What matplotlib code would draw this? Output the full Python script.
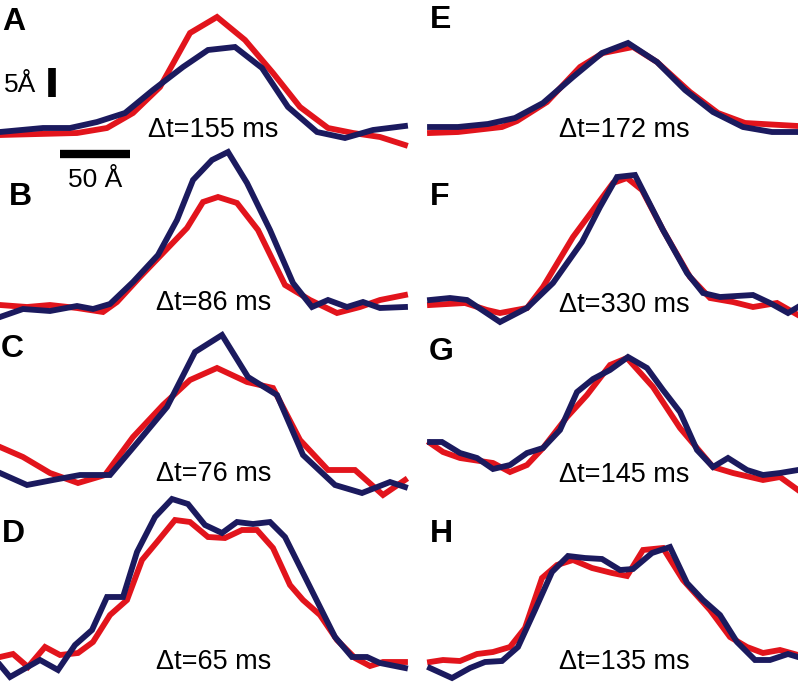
import matplotlib
matplotlib.use('Agg')
import matplotlib.pyplot as plt

# colours of the two traces
RED = '#e2141c'
NAVY = '#1b1a5e'

# panel A
A_red_x = [0, 77, 107, 133, 160, 190, 217, 245, 273, 300, 328, 353, 380, 405]
A_red_y = [135, 133, 128, 113, 87, 33, 17, 40, 73, 107, 128, 133, 137, 145]
A_navy_x = [0, 43, 70, 97, 125, 153, 183, 208, 235, 262, 288, 317, 345, 373, 405]
A_navy_y = [132, 128, 128, 122, 113, 90, 67, 50, 47, 68, 107, 132, 138, 130, 126]

# panel B
B_red_x = [0, 27, 50, 77, 103, 117, 140, 163, 187, 203, 218, 237, 258, 285, 310, 337, 360, 380, 405]
B_red_y = [305, 307, 305, 308, 312, 302, 277, 253, 228, 202, 197, 203, 230, 285, 300, 313, 307, 300, 295]
B_navy_x = [0, 23, 50, 77, 93, 110, 133, 158, 177, 193, 212, 228, 247, 270, 293, 312, 328, 347, 363, 380, 405]
B_navy_y = [317, 309, 311, 306, 309, 304, 282, 255, 220, 180, 160, 152, 183, 230, 283, 307, 300, 307, 302, 308, 307]

# panel C
C_red_x = [0, 23, 50, 78, 105, 133, 163, 190, 217, 247, 273, 300, 328, 355, 383, 405]
C_red_y = [447, 457, 473, 483, 475, 437, 405, 380, 368, 382, 388, 440, 470, 470, 495, 480]
C_navy_x = [0, 27, 53, 80, 110, 137, 167, 195, 222, 248, 277, 303, 335, 362, 390, 405]
C_navy_y = [473, 485, 480, 475, 475, 443, 407, 352, 335, 377, 395, 455, 485, 493, 482, 487]

# panel D
D_red_x = [0, 13, 28, 45, 60, 78, 93, 110, 127, 142, 157, 175, 190, 208, 225, 242, 257, 273, 290, 303, 320, 337, 355, 370, 383, 405]
D_red_y = [657, 654, 667, 647, 655, 653, 642, 615, 600, 560, 542, 520, 522, 537, 538, 530, 530, 548, 585, 600, 615, 640, 658, 666, 662, 662]
D_navy_x = [0, 10, 40, 58, 75, 92, 107, 123, 137, 155, 172, 188, 205, 222, 237, 253, 270, 285, 310, 335, 352, 367, 380, 405]
D_navy_y = [665, 677, 660, 670, 645, 630, 597, 597, 552, 517, 499, 504, 525, 533, 522, 524, 522, 537, 587, 637, 657, 657, 663, 668]

# panel E
E_red_x = [430, 458, 502, 517, 547, 580, 603, 633, 657, 690, 718, 745, 798]
E_red_y = [133, 132, 127, 121, 102, 67, 53, 47, 62, 92, 113, 123, 126]
E_navy_x = [430, 458, 488, 515, 543, 573, 602, 628, 657, 685, 713, 743, 772, 798]
E_navy_y = [127, 127, 124, 118, 103, 77, 53, 43, 62, 90, 112, 127, 132, 132]

# panel F
F_red_x = [430, 465, 487, 500, 527, 543, 573, 593, 613, 627, 642, 663, 690, 710, 733, 753, 777, 798]
F_red_y = [305, 303, 310, 313, 308, 287, 237, 210, 183, 178, 190, 230, 277, 298, 302, 307, 303, 315]
F_navy_x = [430, 450, 467, 482, 500, 527, 553, 582, 600, 617, 635, 663, 687, 703, 720, 753, 770, 788, 798]
F_navy_y = [300, 298, 300, 310, 322, 308, 283, 242, 207, 177, 175, 230, 273, 293, 297, 295, 303, 313, 307]

# panel G
G_red_x = [430, 443, 460, 493, 510, 527, 543, 567, 587, 610, 627, 653, 680, 713, 733, 763, 780, 798]
G_red_y = [443, 452, 458, 463, 472, 465, 448, 417, 395, 365, 358, 387, 428, 467, 473, 480, 477, 490]
G_navy_x = [430, 442, 460, 477, 493, 510, 527, 543, 560, 577, 593, 610, 628, 647, 663, 680, 697, 713, 728, 747, 763, 780, 798]
G_navy_y = [442, 442, 453, 458, 469, 465, 453, 448, 430, 392, 379, 370, 357, 368, 390, 412, 450, 467, 458, 470, 475, 473, 470]

# panel H
H_red_x = [430, 443, 460, 477, 493, 510, 525, 542, 557, 573, 592, 612, 627, 643, 663, 683, 710, 730, 747, 763, 780, 798]
H_red_y = [662, 660, 661, 654, 652, 647, 628, 578, 565, 560, 568, 573, 576, 550, 548, 580, 610, 637, 647, 653, 650, 655]
H_navy_x = [430, 452, 470, 485, 502, 518, 535, 552, 568, 585, 602, 620, 633, 652, 670, 687, 703, 720, 737, 755, 770, 788, 798]
H_navy_y = [668, 678, 668, 662, 661, 647, 610, 572, 556, 558, 559, 570, 569, 553, 547, 583, 600, 615, 642, 660, 660, 654, 657]

panels = ['A', 'B', 'C', 'D', 'E', 'F', 'G', 'H']
delays = ['155', '86', '76', '65', '172', '330', '145', '135']
traces = {
    'A': (A_red_x, A_red_y, A_navy_x, A_navy_y),
    'B': (B_red_x, B_red_y, B_navy_x, B_navy_y),
    'C': (C_red_x, C_red_y, C_navy_x, C_navy_y),
    'D': (D_red_x, D_red_y, D_navy_x, D_navy_y),
    'E': (E_red_x, E_red_y, E_navy_x, E_navy_y),
    'F': (F_red_x, F_red_y, F_navy_x, F_navy_y),
    'G': (G_red_x, G_red_y, G_navy_x, G_navy_y),
    'H': (H_red_x, H_red_y, H_navy_x, H_navy_y),
}

# label / text anchor positions (image pixels)
label_pos = {'A': (2, 30), 'B': (9, 205), 'C': (1, 357), 'D': (2, 542),
             'E': (430, 28), 'F': (430, 205), 'G': (429, 360), 'H': (430, 542)}
delay_pos = {'A': (213, 130), 'B': (214, 303), 'C': (214, 474), 'D': (214, 662),
             'E': (624, 130), 'F': (624, 305), 'G': (624, 475), 'H': (624, 662)}

fig = plt.figure(figsize=(7.98, 6.83), dpi=100)
ax = fig.add_axes([0, 0, 1, 1])
ax.set_xlim(0, 798)
ax.set_ylim(683, 0)
ax.axis('off')

for p, d in zip(panels, delays):
    rx, ry, nx, ny = traces[p]
    ax.plot(rx, ry, color=RED, lw=4.2, solid_joinstyle='miter')
    ax.plot(nx, ny, color=NAVY, lw=4.2, solid_joinstyle='miter')
    lx, ly = label_pos[p]
    ax.text(lx, ly, p, fontsize=23, fontweight='bold', family='Liberation Sans',
            ha='left', va='baseline')
    tx, ty = delay_pos[p]
    ax.text(tx, ty, '\u0394t=' + d + ' ms', fontsize=19.5, family='Liberation Sans',
            ha='center', va='center')

# scale bars
ax.plot([60, 130], [154, 154], color='black', lw=6, solid_capstyle='butt')
ax.plot([51.5, 51.5], [68, 97], color='black', lw=5.5, solid_capstyle='butt')
ax.text(95, 180, '50 \u00c5', fontsize=19, family='Liberation Sans', ha='center', va='center')
ax.text(20, 85, '5\u00c5', fontsize=19, family='Liberation Sans', ha='center', va='center')

fig.savefig('out.png', dpi=100)
